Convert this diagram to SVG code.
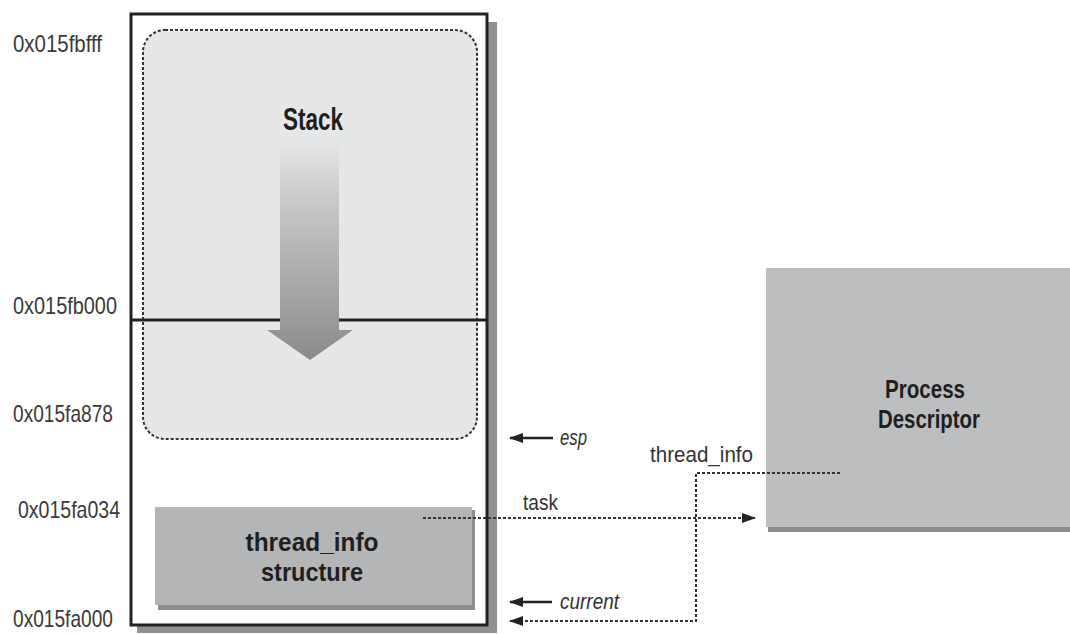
<svg xmlns="http://www.w3.org/2000/svg" width="1070" height="634" viewBox="0 0 1070 634">
<defs>
<style>
.addr{font-family:"Liberation Sans",Arial,sans-serif;font-size:24px;fill:#3a3a3a}
.bold{font-family:"Liberation Sans",Arial,sans-serif;font-weight:bold;fill:#1f1f1f;text-anchor:middle}
.lbl{font-family:"Liberation Sans",Arial,sans-serif;font-size:22px;fill:#333}
.it{font-style:italic}
.dot{fill:none;stroke:#333;stroke-width:2;stroke-dasharray:3 2}
.solid{fill:none;stroke:#222;stroke-width:2.5}
</style>
<linearGradient id="stackGrad" x1="0" y1="0" x2="0" y2="1">
<stop offset="0" stop-color="#e6e7e8"/>
<stop offset="0.25" stop-color="#c9cacb"/>
<stop offset="1" stop-color="#8a8b8c"/>
</linearGradient>
<marker id="ah" viewBox="0 0 14 10" refX="13" refY="5" markerWidth="14" markerHeight="10" markerUnits="userSpaceOnUse" orient="auto">
<path d="M0,0 L14,5 L0,10 Z" fill="#222"/>
</marker>
</defs>

<g id="stack-area">
<rect x="137" y="22" width="360" height="611" fill="#8f9092"/>
<rect x="131" y="14" width="356" height="611" fill="#ffffff" stroke="#222" stroke-width="3"/>
<rect x="143" y="30" width="334" height="409" rx="22" ry="22" fill="#e6e7e8" stroke="#333" stroke-width="2" stroke-dasharray="3 2"/>
<line x1="131" y1="320" x2="487" y2="320" stroke="#222" stroke-width="3"/>
<path d="M280,143 L339,143 L339,330 L353,330 L310,360 L267,330 L280,330 Z" fill="url(#stackGrad)"/>
<text class="bold" x="313" y="130" font-size="32" textLength="60" lengthAdjust="spacingAndGlyphs">Stack</text>
</g>

<g id="thread-info">
<rect x="158" y="510" width="317" height="100" fill="#8d8e90"/>
<rect x="155" y="507" width="317" height="98" fill="#b4b5b7"/>
<text class="bold" x="312" y="551" font-size="25" textLength="133" lengthAdjust="spacingAndGlyphs">thread_info</text>
<text class="bold" x="312" y="581" font-size="25" textLength="102" lengthAdjust="spacingAndGlyphs">structure</text>
</g>

<g id="process-descriptor">
<rect x="768" y="272" width="302" height="260" fill="#8d8e90"/>
<rect x="766" y="268" width="304" height="259" fill="#bcbec0"/>
<text class="bold" x="925" y="398" font-size="25" textLength="80" lengthAdjust="spacingAndGlyphs">Process</text>
<text class="bold" x="929" y="428" font-size="25" textLength="102" lengthAdjust="spacingAndGlyphs">Descriptor</text>
</g>

<g id="addresses">
<text class="addr" x="13" y="52" textLength="89" lengthAdjust="spacingAndGlyphs">0x015fbfff</text>
<text class="addr" x="13" y="314" textLength="104" lengthAdjust="spacingAndGlyphs">0x015fb000</text>
<text class="addr" x="13" y="422" textLength="100" lengthAdjust="spacingAndGlyphs">0x015fa878</text>
<text class="addr" x="18" y="518" textLength="102" lengthAdjust="spacingAndGlyphs">0x015fa034</text>
<text class="addr" x="13" y="627" textLength="100" lengthAdjust="spacingAndGlyphs">0x015fa000</text>
</g>

<g id="connectors">
<line class="solid" x1="553" y1="438" x2="510" y2="438" marker-end="url(#ah)"/>
<line class="solid" x1="552" y1="602" x2="510" y2="602" marker-end="url(#ah)"/>
<line class="dot" x1="423" y1="518" x2="755" y2="518" marker-end="url(#ah)"/>
<polyline class="dot" points="840,473 696,473 696,621 510,621" marker-end="url(#ah)"/>
</g>

<g id="labels">
<text class="lbl it" x="560" y="445" textLength="27" lengthAdjust="spacingAndGlyphs">esp</text>
<text class="lbl it" x="560" y="609" textLength="59" lengthAdjust="spacingAndGlyphs">current</text>
<text class="lbl" x="523" y="510" textLength="35" lengthAdjust="spacingAndGlyphs">task</text>
<text class="lbl" x="650" y="462" textLength="103" lengthAdjust="spacingAndGlyphs">thread_info</text>
</g>
</svg>
